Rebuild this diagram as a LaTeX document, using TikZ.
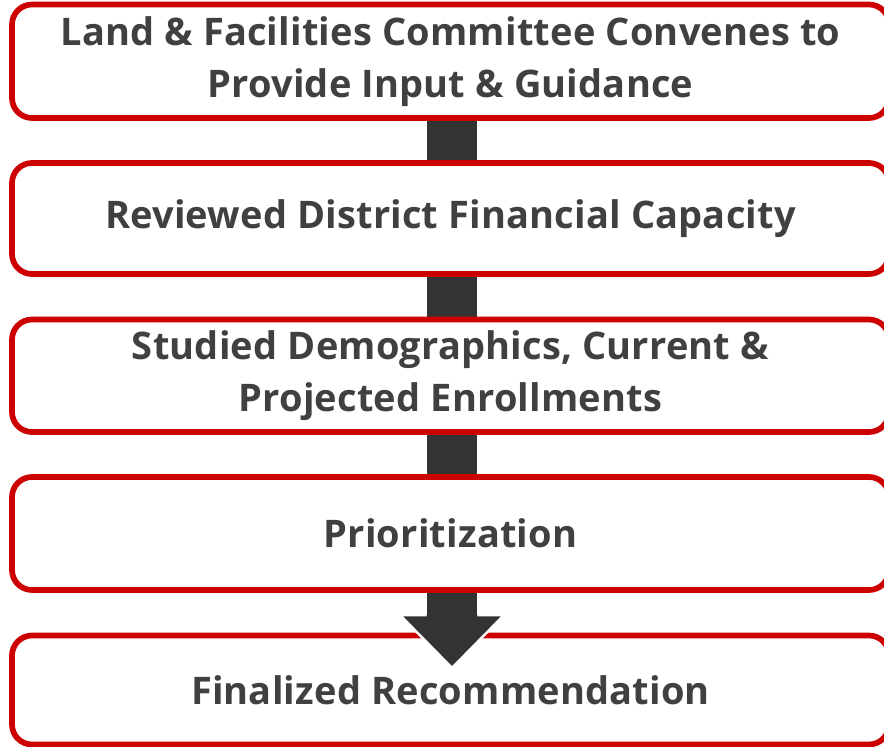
\documentclass[tikz,border=0pt]{standalone}
\usepackage{fontspec}
\setmainfont[Ligatures=NoCommon,LetterSpace=0.5]{Open Sans}
\definecolor{boxred}{HTML}{CC0000}
\definecolor{txtgray}{HTML}{404040}
\definecolor{arrowgray}{HTML}{333333}
\begin{document}
\begin{tikzpicture}[x=1pt,y=-1pt,
  stepbox/.style={draw=boxred,line width=5.7pt,fill=white,rounded corners=20pt,
    minimum width=877pt,inner sep=0pt,align=center,text=txtgray,
    font=\fontsize{38}{52}\selectfont\bfseries},
  flowarrow/.style={fill=arrowgray,draw=white,line width=2.5pt,line join=miter}]
\useasboundingbox (0,0) rectangle (884,747);
% last box drawn first so the arrow head lies over it
\node[stepbox,minimum height=109pt] (b5) at (450.5,690) {Finalized Recommendation};
% arrow behind the upper boxes
\coordinate (atop) at (452,100);
\coordinate (abase) at (452,615);
\coordinate (atip) at (452,668);
\fill[arrowgray] ([xshift=-25.3pt]atop) rectangle ([xshift=25.3pt]abase);
\draw[flowarrow] ([xshift=-25.3pt]abase) -- ([xshift=-52pt]abase) -- (atip) -- ([xshift=52pt]abase) -- ([xshift=25.3pt]abase);
\fill[arrowgray] ([xshift=-25.3pt,yshift=-10pt]abase) rectangle ([xshift=25.3pt,yshift=1pt]abase);
\node[stepbox,minimum height=113.5pt] (b1) at (450.5,61.25) {Land \& Facilities Committee Convenes to\\Provide Input \& Guidance};
\node[stepbox,minimum height=111pt] (b2) at (450.5,218.5) {Reviewed District Financial Capacity};
\node[stepbox,minimum height=112.5pt] (b3) at (450.5,375.75) {Studied Demographics, Current \&\\Projected Enrollments};
\node[stepbox,minimum height=113pt] (b4) at (450.5,533.5) {Prioritization};
\end{tikzpicture}
\end{document}
